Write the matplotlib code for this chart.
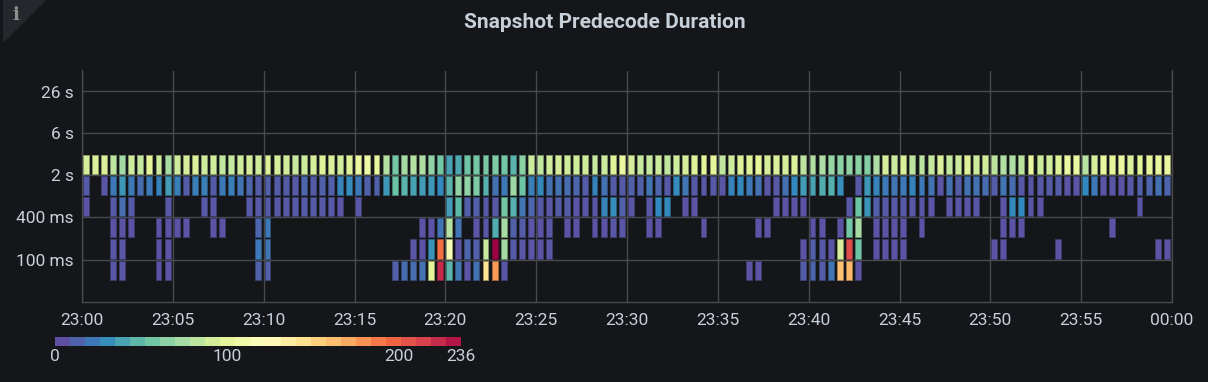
import numpy as np
import matplotlib
matplotlib.use("Agg")
import matplotlib.pyplot as plt
from matplotlib.colors import ListedColormap, to_rgb
from matplotlib.patches import Polygon

# counts per 30 s column, one list per latency bucket (0 = empty cell)
row_1600ms = [88,90,90,78,68,85,82,95,85,70,85,88,90,85,86,80,82,85,88,85,
              92,88,86,82,84,88,92,90,86,92,100,104,97,74,52,70,74,72,62,52,
              34,36,50,52,54,56,52,42,60,84,80,85,88,85,85,85,82,84,92,100,
              88,82,82,84,80,85,88,92,95,96,80,85,92,92,96,88,90,88,90,78,
              74,72,64,60,62,60,58,72,88,84,90,78,78,82,90,82,84,92,84,86,
              78,74,72,78,100,84,86,92,100,100,76,88,100,96,100,90,94,96,98,100]
row_800ms = [5,0,3,18,30,18,12,18,22,32,20,6,20,20,5,18,20,15,10,6,
             8,6,6,4,10,6,8,8,22,25,18,8,8,30,48,42,35,32,30,24,
             42,62,62,56,40,14,18,66,50,20,24,14,14,12,10,6,22,14,5,5,
             8,8,16,10,4,25,16,4,4,4,3,22,24,18,14,3,4,14,24,32,
             35,38,40,26,0,4,30,22,18,16,18,22,18,14,3,14,6,14,14,12,
             6,16,12,4,3,4,5,6,3,3,24,18,2,3,2,4,8,10,14,10]
row_400ms = [2,0,0,4,12,5,0,0,0,4,0,0,0,4,3,0,0,0,4,4,
             5,4,4,4,5,5,4,4,3,0,3,0,0,0,0,0,0,0,0,0,
             32,44,7,8,4,4,52,40,15,10,4,3,6,6,3,3,3,22,26,8,
             3,0,3,24,24,0,2,2,0,0,0,0,0,0,0,0,2,2,2,2,
             0,0,0,0,3,50,28,8,4,4,4,3,3,3,0,3,3,3,3,0,
             0,3,24,24,3,2,0,0,0,0,0,0,0,0,0,0,3,0,0,0]
row_200ms = [0,0,0,2,2,2,0,0,2,2,2,2,0,0,2,2,0,0,0,10,
             18,0,0,0,0,0,0,0,0,0,0,0,0,0,0,0,0,2,2,15,
             75,15,0,3,3,38,70,8,6,3,2,3,0,2,2,0,2,2,3,3,
             0,0,2,2,0,0,0,0,2,0,0,0,0,0,2,2,0,0,0,0,
             2,2,0,2,52,70,0,2,2,2,2,0,2,0,0,0,0,0,0,0,
             0,2,2,2,0,0,0,0,0,0,0,0,0,2,0,0,0,0,0,0]
row_100ms = [0,0,0,3,3,0,0,0,2,2,0,0,0,0,0,0,0,0,0,18,
             16,0,0,0,0,0,0,0,0,0,0,0,0,0,0,0,3,2,28,188,
             112,2,10,8,82,236,68,5,3,3,2,3,0,0,0,0,0,0,0,0,
             0,0,0,0,0,0,0,0,0,0,0,0,0,0,0,0,0,0,0,2,
             8,4,2,88,205,50,0,2,2,2,2,0,0,0,0,0,0,0,0,0,
             2,2,0,0,0,0,0,2,0,0,0,0,0,0,0,0,0,0,2,2]
row_50ms = [0,0,0,3,3,0,0,0,2,2,0,0,0,0,0,0,0,0,0,8,
            8,0,0,0,0,0,0,0,0,0,0,0,0,0,8,12,12,14,94,220,
            42,16,3,14,138,172,3,0,0,0,0,0,0,0,0,0,0,0,0,0,
            0,0,0,0,0,0,0,0,0,0,0,0,0,2,2,0,0,0,0,6,
            10,6,16,155,160,2,0,0,0,0,0,0,0,0,0,0,0,0,0,0,
            0,0,0,0,0,0,0,0,0,0,0,0,0,0,0,0,0,0,0,0]

bucket_rows = [row_50ms, row_100ms, row_200ms, row_400ms, row_800ms, row_1600ms]
bucket_low = [0.05, 0.1, 0.2, 0.4, 0.8, 1.6]

y_ticks = [0.1, 0.4, 1.6, 6.4, 25.6]
y_labels = ["100 ms", "400 ms", "2 s", "6 s", "26 s"]
x_ticks = list(range(0, 61, 5))
x_labels = ["23:00", "23:05", "23:10", "23:15", "23:20", "23:25", "23:30",
            "23:35", "23:40", "23:45", "23:50", "23:55", "00:00"]
legend_ticks = [0, 100, 200, 236]
max_count = 236

bg = "#141619"
txt = "#c7d0d9"
grid = "#47494c"

plt.rcParams['font.family'] = ['Roboto', 'DejaVu Sans']

fig = plt.figure(figsize=(12.08, 3.82), dpi=100, facecolor=bg)
W, H = 1208.0, 382.0
ax = fig.add_axes([82/W, 1-301.5/H, 1090/W, 231/H], facecolor=bg)

cmap = plt.get_cmap("Spectral_r")
bg_rgb = np.array(to_rgb(bg))
gap = 2**(1/21)   # one pixel on the log axis
for low, counts in zip(bucket_low, bucket_rows):
    for i, c in enumerate(counts):
        if c == 0:
            continue
        face = np.array(cmap(c/max_count)[:3])
        edge = face*0.6 + bg_rgb*0.4
        ax.bar(i*0.5+0.05, low*2/gap-low*gap, width=0.5*5.9/9.083, bottom=low*gap,
               align="edge", color=face, edgecolor=edge, linewidth=0.72, zorder=3)

ax.set_yscale("log", base=2)
ax.set_ylim(0.025, 51.2)
ax.set_xlim(0, 60)
ax.set_yticks(y_ticks)
ax.set_yticklabels(y_labels)
ax.minorticks_off()
ax.set_xticks(x_ticks)
ax.set_xticklabels(x_labels)
ax.grid(True, color=grid, linewidth=1, zorder=1)
ax.set_axisbelow(True)
ax.tick_params(axis="both", length=0, labelsize=12.5, labelcolor=txt)
ax.tick_params(axis="x", pad=8)
ax.tick_params(axis="y", pad=6)
ax.spines["top"].set_visible(False)
for s in ["left", "right", "bottom"]:
    ax.spines[s].set_color(grid)
    ax.spines[s].set_linewidth(1)

fig.text(605/W, 1-22/H, "Snapshot Predecode Duration", color=txt, fontsize=15,
         fontweight="bold", ha="center", va="center")

# legend strip
lax = fig.add_axes([55/W, 1-346/H, 406/W, 9/H], facecolor=bg)
n_bands = 27
bands = ListedColormap([cmap(i/n_bands) for i in range(n_bands)])
lax.imshow(np.arange(n_bands)[None, :], cmap=bands, aspect="auto", extent=[0, max_count, 0, 1])
lax.set_yticks([])
lax.set_xticks(legend_ticks)
lax.set_xticklabels([str(t) for t in legend_ticks])
lax.tick_params(axis="x", length=0, labelsize=12.5, labelcolor=txt, pad=2)
for s in lax.spines.values():
    s.set_visible(False)

# info corner
fig.patches.append(Polygon([[3/W, 1], [46/W, 1], [3/W, 1-43/H]], closed=True,
                           transform=fig.transFigure, facecolor="#24272b", edgecolor="none"))
fig.text(15.5/W, 1-15/H, "i", color="#8e8e8e", fontsize=13, fontweight="bold",
         family="DejaVu Serif", ha="center", va="center")

fig.savefig("out.png", dpi=100, facecolor=bg)
